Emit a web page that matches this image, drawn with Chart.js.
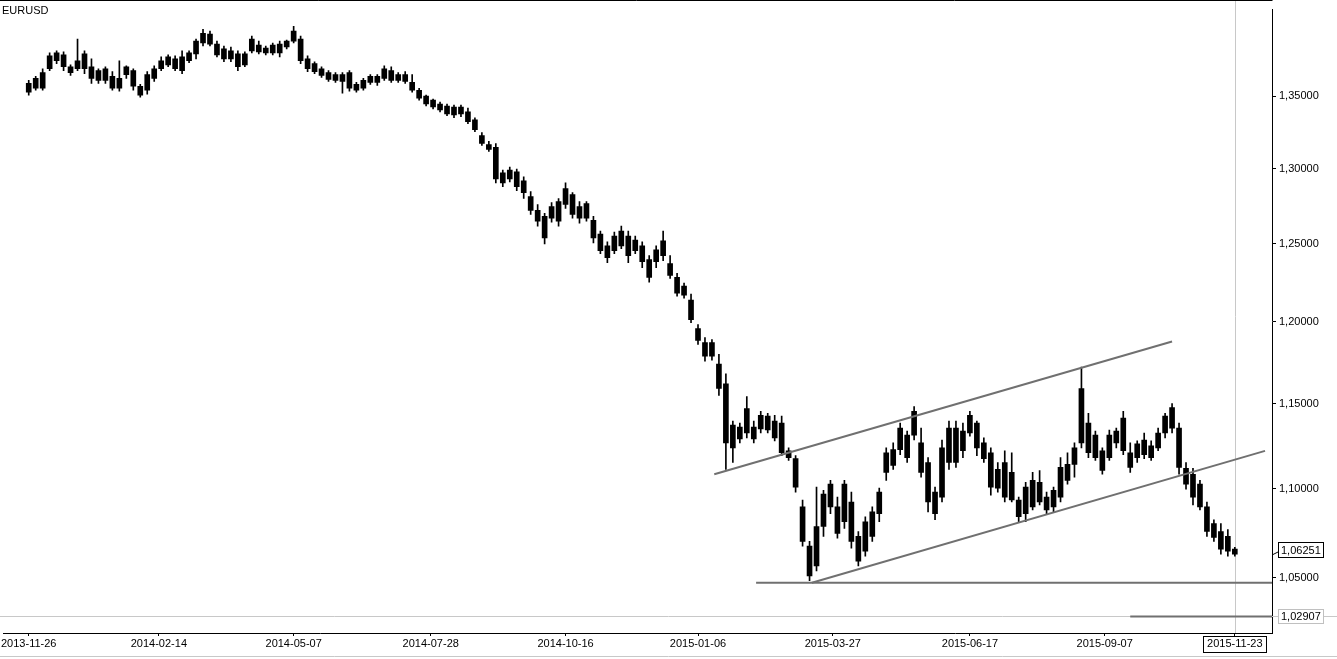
<!DOCTYPE html>
<html>
<head>
<meta charset="utf-8">
<title>EURUSD</title>
<script src="https://cdn.jsdelivr.net/npm/chart.js@4.4.1/dist/chart.umd.min.js"></script>
<style>
  html, body { margin: 0; padding: 0; background: #fff; }
  #wrap { position: relative; width: 1337px; height: 659px; }
  #symbol { position: absolute; left: 2px; top: 4px; font: 11px "Liberation Sans", Arial, sans-serif; color: #000; }
</style>
</head>
<body>
<div id="wrap">
  <canvas id="chart" width="1337" height="659"></canvas>
  <div id="symbol">EURUSD</div>
</div>
<script>
// EURUSD, one bar per 3 trading days
const highs = [
  1.3612, 1.3640, 1.3695, 1.3809, 1.3823, 1.3816, 1.3723, 1.3908, 1.3823, 1.3766,
  1.3695, 1.3709, 1.3674, 1.3752, 1.3716, 1.3695, 1.3584, 1.3674, 1.3716, 1.3780,
  1.3794, 1.3787, 1.3823, 1.3823, 1.3908, 1.3980, 1.3966, 1.3894, 1.3858, 1.3851,
  1.3823, 1.3816, 1.3930, 1.3894, 1.3858, 1.3880, 1.3894, 1.3901, 1.4002, 1.3930,
  1.3787, 1.3745, 1.3709, 1.3681, 1.3667, 1.3667, 1.3681, 1.3598, 1.3626, 1.3653,
  1.3653, 1.3716, 1.3709, 1.3667, 1.3674, 1.3653, 1.3556, 1.3507, 1.3479, 1.3458,
  1.3445, 1.3438, 1.3438, 1.3417, 1.3349, 1.3246, 1.3185, 1.3171, 1.2990, 1.3010,
  1.2997, 1.2943, 1.2844, 1.2758, 1.2700, 1.2771, 1.2798, 1.2903, 1.2837, 1.2778,
  1.2778, 1.2680, 1.2582, 1.2512, 1.2576, 1.2615, 1.2582, 1.2550, 1.2512, 1.2422,
  1.2486, 1.2582, 1.2422, 1.2308, 1.2245, 1.2175, 1.1983, 1.1903, 1.1890, 1.1799,
  1.1679, 1.1395, 1.1383, 1.1542, 1.1395, 1.1453, 1.1441, 1.1429, 1.1424, 1.1237,
  1.1191, 1.0935, 1.0702, 1.1009, 1.0991, 1.1048, 1.0952, 1.1048, 1.0980, 1.0757,
  1.0840, 1.0896, 1.1003, 1.1237, 1.1266, 1.1383, 1.1336, 1.1482, 1.1353, 1.1180,
  1.1009, 1.1283, 1.1395, 1.1395, 1.1383, 1.1453, 1.1395, 1.1295, 1.1237, 1.1151,
  1.1220, 1.1208, 1.0952, 1.1037, 1.1094, 1.1105, 1.0980, 1.1009, 1.1180, 1.1208,
  1.1266, 1.1721, 1.1441, 1.1336, 1.1237, 1.1342, 1.1353, 1.1453, 1.1266, 1.1278,
  1.1324, 1.1278, 1.1353, 1.1441, 1.1500, 1.1383, 1.1151, 1.1117, 1.1048, 1.0924,
  1.0823, 1.0801, 1.0768, 1.0669
];
const bodyHighs = [
  1.3591, 1.3626, 1.3667, 1.3787, 1.3809, 1.3794, 1.3709, 1.3752, 1.3801, 1.3709,
  1.3681, 1.3695, 1.3640, 1.3626, 1.3709, 1.3681, 1.3570, 1.3653, 1.3695, 1.3752,
  1.3780, 1.3766, 1.3780, 1.3809, 1.3894, 1.3951, 1.3944, 1.3872, 1.3837, 1.3823,
  1.3801, 1.3801, 1.3908, 1.3865, 1.3844, 1.3865, 1.3872, 1.3894, 1.3966, 1.3908,
  1.3766, 1.3731, 1.3695, 1.3667, 1.3653, 1.3653, 1.3667, 1.3584, 1.3612, 1.3640,
  1.3640, 1.3695, 1.3681, 1.3653, 1.3653, 1.3598, 1.3542, 1.3500, 1.3472, 1.3445,
  1.3431, 1.3424, 1.3424, 1.3390, 1.3335, 1.3226, 1.3164, 1.3144, 1.2970, 1.2990,
  1.2977, 1.2917, 1.2811, 1.2719, 1.2680, 1.2745, 1.2778, 1.2864, 1.2824, 1.2745,
  1.2765, 1.2654, 1.2563, 1.2486, 1.2550, 1.2582, 1.2550, 1.2524, 1.2486, 1.2396,
  1.2460, 1.2518, 1.2371, 1.2282, 1.2226, 1.2138, 1.1958, 1.1872, 1.1872, 1.1739,
  1.1619, 1.1371, 1.1359, 1.1470, 1.1359, 1.1429, 1.1424, 1.1395, 1.1383, 1.1220,
  1.1174, 1.0896, 1.0675, 1.0785, 1.0969, 1.1026, 1.0896, 1.1026, 1.0924, 1.0730,
  1.0812, 1.0868, 1.0980, 1.1208, 1.1226, 1.1353, 1.1312, 1.1453, 1.1266, 1.1151,
  1.0980, 1.1237, 1.1353, 1.1353, 1.1336, 1.1429, 1.1383, 1.1266, 1.1208, 1.1111,
  1.1151, 1.1094, 1.0935, 1.1009, 1.1048, 1.1037, 1.0952, 1.0991, 1.1123, 1.1140,
  1.1237, 1.1590, 1.1383, 1.1312, 1.1220, 1.1312, 1.1336, 1.1412, 1.1208, 1.1260,
  1.1283, 1.1249, 1.1324, 1.1424, 1.1476, 1.1353, 1.1117, 1.1083, 1.1026, 1.0896,
  1.0801, 1.0757, 1.0730, 1.0658
];
const bodyLows = [
  1.3528, 1.3556, 1.3556, 1.3695, 1.3752, 1.3709, 1.3667, 1.3695, 1.3695, 1.3626,
  1.3612, 1.3612, 1.3556, 1.3556, 1.3653, 1.3570, 1.3507, 1.3542, 1.3626, 1.3695,
  1.3723, 1.3695, 1.3681, 1.3752, 1.3801, 1.3880, 1.3872, 1.3794, 1.3766, 1.3766,
  1.3709, 1.3723, 1.3823, 1.3816, 1.3809, 1.3809, 1.3809, 1.3851, 1.3894, 1.3752,
  1.3695, 1.3674, 1.3647, 1.3619, 1.3612, 1.3605, 1.3556, 1.3542, 1.3556, 1.3598,
  1.3598, 1.3626, 1.3612, 1.3612, 1.3605, 1.3542, 1.3486, 1.3445, 1.3424, 1.3403,
  1.3376, 1.3369, 1.3376, 1.3322, 1.3266, 1.3171, 1.3131, 1.2930, 1.2903, 1.2930,
  1.2877, 1.2837, 1.2719, 1.2648, 1.2537, 1.2667, 1.2648, 1.2758, 1.2693, 1.2667,
  1.2667, 1.2537, 1.2454, 1.2409, 1.2454, 1.2486, 1.2422, 1.2454, 1.2384, 1.2282,
  1.2384, 1.2422, 1.2295, 1.2182, 1.2169, 1.2014, 1.1884, 1.1787, 1.1787, 1.1590,
  1.1266, 1.1237, 1.1289, 1.1324, 1.1289, 1.1348, 1.1342, 1.1295, 1.1208, 1.1180,
  1.1009, 1.0702, 1.0511, 1.0565, 1.0785, 1.0896, 1.0746, 1.0812, 1.0702, 1.0592,
  1.0647, 1.0730, 1.0857, 1.1094, 1.1134, 1.1226, 1.1180, 1.1312, 1.1094, 1.0924,
  1.0857, 1.0952, 1.1151, 1.1151, 1.1220, 1.1324, 1.1237, 1.1174, 1.1009, 1.1003,
  1.0952, 1.0935, 1.0840, 1.0857, 1.0896, 1.0924, 1.0879, 1.0896, 1.0952, 1.1048,
  1.1140, 1.1266, 1.1208, 1.1180, 1.1105, 1.1180, 1.1266, 1.1220, 1.1123, 1.1180,
  1.1197, 1.1180, 1.1237, 1.1324, 1.1353, 1.1123, 1.1026, 1.0952, 1.0896, 1.0757,
  1.0724, 1.0658, 1.0647, 1.0631
];
const lows = [
  1.3507, 1.3542, 1.3542, 1.3681, 1.3731, 1.3681, 1.3647, 1.3681, 1.3660, 1.3591,
  1.3591, 1.3591, 1.3542, 1.3535, 1.3626, 1.3542, 1.3493, 1.3514, 1.3605, 1.3681,
  1.3709, 1.3681, 1.3660, 1.3738, 1.3766, 1.3858, 1.3858, 1.3780, 1.3745, 1.3745,
  1.3681, 1.3709, 1.3809, 1.3801, 1.3794, 1.3794, 1.3780, 1.3837, 1.3880, 1.3731,
  1.3674, 1.3660, 1.3633, 1.3605, 1.3598, 1.3521, 1.3535, 1.3528, 1.3542, 1.3584,
  1.3577, 1.3612, 1.3598, 1.3598, 1.3591, 1.3528, 1.3472, 1.3431, 1.3410, 1.3390,
  1.3363, 1.3349, 1.3356, 1.3308, 1.3253, 1.3158, 1.3117, 1.2903, 1.2877, 1.2910,
  1.2851, 1.2798, 1.2693, 1.2615, 1.2499, 1.2641, 1.2615, 1.2732, 1.2667, 1.2635,
  1.2648, 1.2505, 1.2435, 1.2377, 1.2435, 1.2467, 1.2377, 1.2435, 1.2345, 1.2251,
  1.2345, 1.2390, 1.2276, 1.2163, 1.2150, 1.1995, 1.1860, 1.1757, 1.1763, 1.1548,
  1.1111, 1.1151, 1.1266, 1.1295, 1.1266, 1.1324, 1.1324, 1.1278, 1.1191, 1.1163,
  1.0980, 1.0675, 1.0484, 1.0538, 1.0730, 1.0857, 1.0719, 1.0774, 1.0664, 1.0565,
  1.0620, 1.0702, 1.0812, 1.1048, 1.1111, 1.1197, 1.1151, 1.1283, 1.1066, 1.0868,
  1.0823, 1.0924, 1.1111, 1.1123, 1.1180, 1.1306, 1.1191, 1.1151, 1.0963, 1.0980,
  1.0924, 1.0924, 1.0812, 1.0812, 1.0879, 1.0907, 1.0857, 1.0868, 1.0924, 1.1026,
  1.1066, 1.1237, 1.1180, 1.1163, 1.1083, 1.1163, 1.1237, 1.1197, 1.1094, 1.1151,
  1.1174, 1.1163, 1.1220, 1.1295, 1.1324, 1.1083, 1.0997, 1.0907, 1.0879, 1.0730,
  1.0702, 1.0631, 1.0620, 1.0620
];

// x axis counts trading days from the first bar
const daysPerBar = 3;
const tickDays = [1, 57, 115, 174, 232, 289, 347, 406, 464, 520];
const tickLabels = ['2013-11-26', '2014-02-14', '2014-05-07', '2014-07-28', '2014-10-16',
                    '2015-01-06', '2015-03-27', '2015-06-17', '2015-09-07', '2015-11-23'];
const priceTicks = [1.05, 1.10, 1.15, 1.20, 1.25, 1.30, 1.35];
const lastDay = 520;
const lastPrice = 1.06251;
const markPrice = 1.02907;

// drawn lines: [day, price]
const upperChannel = [[296, 1.1083], [493, 1.1878]];
const lowerChannel = [[338, 1.0473], [533, 1.1219]];
const supportLine = [[314, 1.0473], [536, 1.0473]];
const markLine = [[475, markPrice], [536, markPrice]];

const FONT = '"Liberation Sans", Arial, sans-serif';
const fmt = v => v.toFixed(5).replace('.', ',');

const wickData = highs.map((h, i) => ({ x: daysPerBar * i + 1, y: [lows[i], h] }));
const bodyData = bodyHighs.map((h, i) => ({ x: daysPerBar * i + 1, y: [bodyLows[i], h] }));
const toPts = arr => arr.map(p => ({ x: p[0], y: p[1] }));

function lineSet(arr, color) {
    return {
        type: 'line',
        data: toPts(arr),
        borderColor: color,
        borderWidth: 2,
        pointRadius: 0,
        fill: false,
        order: 0
    };
}

const framePlugin = {
    id: 'frame',
    beforeDatasetsDraw(chart) {
        const { ctx, chartArea, scales } = chart;
        const cx = Math.round(scales.x.getPixelForValue(lastDay)) + 0.5;
        const cy = Math.round(scales.y.getPixelForValue(markPrice)) + 0.5;
        ctx.save();
        ctx.strokeStyle = '#c8c8c8';
        ctx.lineWidth = 1;
        ctx.beginPath();
        ctx.moveTo(cx, 0);
        ctx.lineTo(cx, chartArea.bottom);
        ctx.moveTo(0, cy);
        ctx.lineTo(chart.width, cy);
        ctx.stroke();
        ctx.restore();
    },
    afterDraw(chart) {
        const { ctx, chartArea, scales } = chart;
        ctx.save();
        ctx.lineWidth = 1;
        // top frame line
        ctx.strokeStyle = '#000';
        ctx.beginPath();
        ctx.moveTo(0, 0.5);
        ctx.lineTo(chartArea.right + 0.5, 0.5);
        ctx.stroke();
        // bottom page line
        ctx.strokeStyle = '#c8c8c8';
        ctx.beginPath();
        ctx.moveTo(0, 656.5);
        ctx.lineTo(chart.width, 656.5);
        ctx.stroke();

        ctx.font = '11px ' + FONT;
        ctx.textBaseline = 'middle';
        ctx.textAlign = 'left';
        const boxX = chartArea.right + 6;
        // last price box
        const yl = Math.round(scales.y.getPixelForValue(lastPrice));
        const by = yl - 5;
        ctx.strokeStyle = '#000';
        ctx.beginPath();
        ctx.moveTo(chartArea.right, yl);
        ctx.lineTo(boxX, by + 2);
        ctx.stroke();
        ctx.fillStyle = '#fff';
        ctx.fillRect(boxX + 0.5, by - 7.5, 45, 15);
        ctx.strokeRect(boxX + 0.5, by - 7.5, 45, 15);
        ctx.fillStyle = '#000';
        ctx.fillText(fmt(lastPrice), boxX + 3, by + 0.5);
        // marked level box
        const ym = Math.round(scales.y.getPixelForValue(markPrice)) + 1;
        ctx.strokeStyle = '#c0c0c0';
        ctx.fillStyle = '#fff';
        ctx.fillRect(boxX + 0.5, ym - 7.5, 45, 14);
        ctx.strokeRect(boxX + 0.5, ym - 7.5, 45, 14);
        ctx.fillStyle = '#000';
        ctx.fillText(fmt(markPrice), boxX + 3, ym);
        // box round the last date label
        const lx = scales.x.getPixelForValue(lastDay);
        const w = ctx.measureText(tickLabels[tickLabels.length - 1]).width;
        ctx.strokeStyle = '#000';
        ctx.strokeRect(Math.round(lx - w / 2 - 4) + 0.5, chartArea.bottom + 3.5, Math.round(w + 8), 16);
        ctx.restore();
    }
};

const ctx = document.getElementById('chart').getContext('2d');
const chart = new Chart(ctx, {
    type: 'bar',
    data: {
        datasets: [
            lineSet(upperChannel, '#707070'),
            lineSet(lowerChannel, '#707070'),
            lineSet(supportLine, '#707070'),
            lineSet(markLine, '#707070'),
            { data: bodyData, backgroundColor: '#000', barThickness: 5, grouped: false, order: 1 },
            { data: wickData, backgroundColor: '#000', barThickness: 1, grouped: false, order: 2 }
        ]
    },
    options: {
        responsive: false,
        animation: false,
        layout: { padding: 0 },
        plugins: {
            legend: { display: false },
            tooltip: { enabled: false }
        },
        scales: {
            x: {
                type: 'linear',
                min: -9.9,
                max: 536,
                offset: false,
                afterBuildTicks: s => { s.ticks = tickDays.map(v => ({ value: v })); },
                afterFit: s => { s.height = 26; },
                ticks: {
                    autoSkip: false,
                    maxRotation: 0,
                    padding: 1,
                    color: '#000',
                    font: { family: FONT, size: 11 },
                    callback: (v, i) => tickLabels[i]
                },
                grid: { drawOnChartArea: false, offset: false, tickLength: 3, color: '#000' },
                border: { color: '#000' }
            },
            y: {
                type: 'logarithmic',
                position: 'right',
                min: 1.0202,
                max: 1.4124,
                afterBuildTicks: s => { s.ticks = priceTicks.map(v => ({ value: v })); },
                afterFit: s => { s.width = 65; },
                ticks: {
                    padding: 3,
                    color: '#000',
                    font: { family: FONT, size: 11 },
                    callback: v => fmt(v)
                },
                grid: { drawOnChartArea: false, tickLength: 4, color: '#000' },
                border: { color: '#000' }
            }
        }
    },
    plugins: [framePlugin]
});
</script>
</body>
</html>
